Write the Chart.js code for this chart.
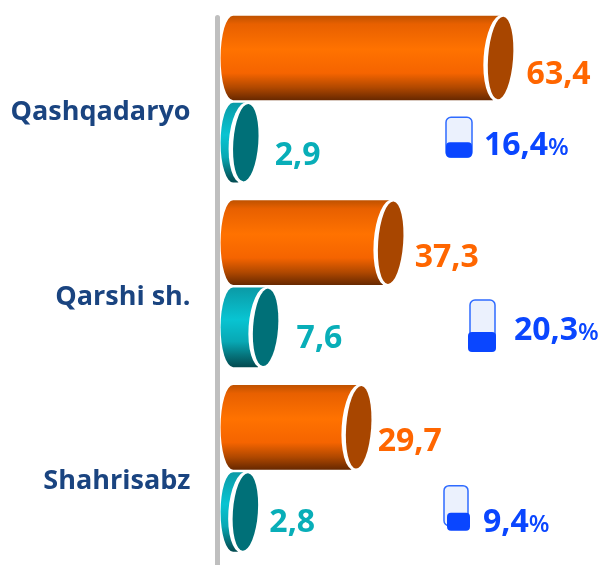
<!DOCTYPE html>
<html>
<head>
<meta charset="utf-8">
<style>
html, body { margin: 0; padding: 0; background: #fff; }
canvas { display: block; }
</style>
<script src="https://cdn.jsdelivr.net/npm/chart.js@4/dist/chart.umd.min.js"></script>
</head>
<body>
<canvas id="chart" width="602" height="565"></canvas>
<script>
// data
const categories = ['Qashqadaryo', 'Qarshi sh.', 'Shahrisabz'];
const orangeValues = [63.4, 37.3, 29.7];
const tealValues = [2.9, 7.6, 2.8];
const percentValues = [16.4, 20.3, 9.4];

// placement of the labels next to the cylinders
const orangeLabelGap = [14, 12, 7];
const orangeLabelDrop = [17, 15, 15];
const tealLabelGap = [17, 19, 12];
const tealLabelDrop = [13, 12, 11];
const percentTextX = [484, 514, 483];
const percentTextDrop = [46, 46, 53];
const iconX = [446, 470, 444];
const iconTop = [17, 15, 16];
const iconWidth = [26, 25, 24];
const iconHeight = [40, 50, 40];
const iconFillX = [446, 468, 447];
const iconFillWidth = [26, 28, 23];
const iconFillHeight = [15, 20, 18];
const iconFillTop = [25, 32, 27];

const FONT = '"Open Sans", "Noto Sans", sans-serif';

function formatValue(v) {
    return v.toFixed(1).replace('.', ',');
}

function bodyGradient(ctx, el, stops) {
    const top = el.y - el.height / 2;
    const g = ctx.createLinearGradient(0, top, 0, top + el.height);
    stops.forEach(s => g.addColorStop(s[0], s[1]));
    return g;
}

const orangeStops = [[0, '#bf5200'], [0.1, '#e86000'], [0.4, '#ff7200'], [0.68, '#f56400'], [0.85, '#b04800'], [1, '#672800']];
const tealStops = [[0, '#0b9aa6'], [0.4, '#08c4d2'], [0.68, '#08a8b4'], [0.85, '#06747c'], [1, '#034a50']];

function drawCylinder(ctx, el, stops, capColor) {
    const rx = 12.5;
    const ry = el.height / 2;
    const top = el.y - ry;
    const bottom = el.y + ry;

    ctx.save();
    ctx.beginPath();
    ctx.moveTo(el.base, top);
    ctx.lineTo(el.x, top);
    ctx.lineTo(el.x - 7, bottom);
    ctx.lineTo(el.base, bottom);
    ctx.ellipse(el.base, el.y, rx, ry, 0, Math.PI / 2, Math.PI * 1.5);
    ctx.closePath();
    ctx.fillStyle = bodyGradient(ctx, el, stops);
    ctx.fill();

    // white rim then the flat end
    ctx.beginPath();
    ctx.ellipse(el.x - 1, el.y, rx + 3, ry + 1, 0.07, 0, Math.PI * 2);
    ctx.fillStyle = '#fff';
    ctx.fill();
    ctx.beginPath();
    ctx.ellipse(el.x + 0.5, el.y, rx, ry - 1, 0.07, 0, Math.PI * 2);
    ctx.fillStyle = capColor;
    ctx.fill();
    ctx.restore();
}

function roundedBox(ctx, x, y, w, h, r) {
    ctx.beginPath();
    ctx.roundRect(x, y, w, h, r);
}

const cylinderPlugin = {
    id: 'cylinders',
    beforeDatasetsDraw(chart) {
        // grey axis line, starts a bit under the top of the chart area
        const ctx = chart.ctx;
        ctx.save();
        ctx.strokeStyle = '#bfbfbf';
        ctx.lineWidth = 5;
        ctx.lineCap = 'round';
        ctx.beginPath();
        ctx.moveTo(chart.chartArea.left, 17.5);
        ctx.lineTo(chart.chartArea.left, 570);
        ctx.stroke();
        ctx.restore();
    },
    beforeDatasetDraw(chart, args) {
        const ds = chart.data.datasets[args.index];
        args.meta.data.forEach(el => {
            drawCylinder(chart.ctx, el, ds.stops, ds.capColor);
        });
        return false;
    },
    afterDatasetsDraw(chart) {
        const ctx = chart.ctx;
        ctx.save();
        ctx.textBaseline = 'middle';
        ctx.textAlign = 'left';

        chart.getDatasetMeta(0).data.forEach((el, i) => {
            ctx.fillStyle = '#ff6600';
            ctx.font = 'bold 32px ' + FONT;
            ctx.fillText(formatValue(orangeValues[i]), el.x + 12.5 + orangeLabelGap[i], el.y + orangeLabelDrop[i]);
        });
        chart.getDatasetMeta(1).data.forEach((el, i) => {
            ctx.fillStyle = '#08aeb8';
            ctx.font = 'bold 32px ' + FONT;
            ctx.fillText(formatValue(tealValues[i]), el.x + 12.5 + tealLabelGap[i], el.y + tealLabelDrop[i]);
        });

        // share in percent with its small gauge
        const yScale = chart.scales.y;
        percentValues.forEach((v, i) => {
            const cy = yScale.getPixelForValue(i);
            const top = cy + iconTop[i];
            roundedBox(ctx, iconX[i], top, iconWidth[i], iconHeight[i], 5);
            ctx.fillStyle = '#ebf1fd';
            ctx.fill();
            ctx.strokeStyle = '#2f6bff';
            ctx.lineWidth = 1.5;
            ctx.stroke();
            roundedBox(ctx, iconFillX[i], top + iconFillTop[i], iconFillWidth[i], iconFillHeight[i], 4);
            ctx.fillStyle = '#0a46ff';
            ctx.fill();

            const text = formatValue(v);
            const x = percentTextX[i];
            const y = cy + percentTextDrop[i];
            ctx.font = 'bold 32px ' + FONT;
            ctx.fillText(text, x, y);
            const w = ctx.measureText(text).width;
            ctx.font = '600 24px ' + FONT;
            ctx.fillText('%', x + w, y + 2);
        });
        ctx.restore();
    }
};

new Chart(document.getElementById('chart').getContext('2d'), {
    type: 'bar',
    data: {
        labels: categories,
        datasets: [
            { data: orangeValues, backgroundColor: '#ff7200', stops: orangeStops, capColor: '#a84600', barPercentage: 1 },
            { data: tealValues, backgroundColor: '#08c4d2', stops: tealStops, capColor: '#007078', barPercentage: 0.94 }
        ]
    },
    options: {
        indexAxis: 'y',
        responsive: false,
        animation: false,
        categoryPercentage: 0.917,
        layout: { autoPadding: false, padding: { top: 8, bottom: 3 } },
        plugins: { legend: { display: false }, tooltip: { enabled: false } },
        scales: {
            x: { display: false, min: -3.7, max: 87.6 },
            y: {
                grid: { display: false, drawTicks: false },
                border: { display: false },
                afterFit(scale) {
                    // tick padding must not eat into the plot height
                    scale.width = 217.5;
                    scale.paddingTop = 0;
                    scale.paddingBottom = 0;
                },
                ticks: {
                    padding: 27,
                    labelOffset: 12,
                    color: '#1a4480',
                    font: { family: FONT, weight: 'bold', size: 27 }
                }
            }
        }
    },
    plugins: [cylinderPlugin]
});
</script>
</body>
</html>
